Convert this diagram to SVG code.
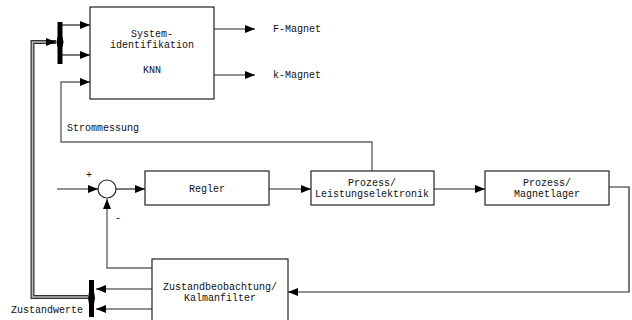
<svg xmlns="http://www.w3.org/2000/svg" width="632" height="320" viewBox="0 0 632 320">
<defs>
<marker id="ah" viewBox="0 0 10 8" refX="10" refY="4" markerWidth="10" markerHeight="8" markerUnits="userSpaceOnUse" orient="auto">
<path d="M0,0 L10,4 L0,8 z" fill="#000"/>
</marker>
<style>
.box{fill:#fff;stroke:#222;stroke-width:1.2}
.ln{fill:none;stroke:#222;stroke-width:1.2}
.gl{fill:none;stroke:#666;stroke-width:1.4}
.dbo{fill:none;stroke:#333;stroke-width:4}
.dbi{fill:none;stroke:#bbb;stroke-width:1.5}
.bar{fill:#000}
text{font-family:"Liberation Mono","DejaVu Sans Mono",monospace;font-size:10px;fill:#111}
.c{text-anchor:middle}
</style>
</defs>
<rect width="632" height="320" fill="#fff"/>
<g id="connectors">
<path class="dbo" d="M56,42 L32.5,42 L32.5,297 L88,297"/>
<path class="dbi" d="M56,42 L32.5,42 L32.5,297 L88,297"/>
<path class="ln" d="M52,42 L56,42" marker-end="url(#ah)"/>
<path class="ln" d="M62,25 L90,25" marker-end="url(#ah)"/>
<path class="ln" d="M62,55 L90,55" marker-end="url(#ah)"/>
<path class="gl" d="M372,171 L372,142 L61,142 L61,82 L90,82" marker-end="url(#ah)"/>
<path class="ln" d="M214,29 L255,29" marker-end="url(#ah)"/>
<path class="ln" d="M214,75 L255,75" marker-end="url(#ah)"/>
<path class="ln" d="M57,189 L98,189" marker-end="url(#ah)"/>
<path class="ln" d="M116,189 L145,189" marker-end="url(#ah)"/>
<path class="ln" d="M269,189 L311,189" marker-end="url(#ah)"/>
<path class="ln" d="M434,189 L485,189" marker-end="url(#ah)"/>
<path class="ln" d="M609,187 L629,187 L629,292 L288,292" marker-end="url(#ah)"/>
<path class="gl" d="M152,268 L107,268 L107,199" marker-end="url(#ah)"/>
<path class="ln" d="M152,289 L96,289" marker-end="url(#ah)"/>
<path class="ln" d="M152,309 L96,309" marker-end="url(#ah)"/>
<text x="89" y="178" class="c">+</text>
<text x="118" y="221" class="c">-</text>
<text x="67" y="131">Strommessung</text>
<text x="273" y="32">F-Magnet</text>
<text x="273" y="78">k-Magnet</text>
<text x="11" y="313">Zustandwerte</text>
</g>
<g id="mux-top">
<path class="bar" d="M57.5,22 L62.5,22 L62.5,36 L63.5,42 L62.5,48 L62.5,64 L57.5,64 L57.5,48 L56.5,42 L57.5,36 z"/>
</g>
<g id="mux-bottom">
<path class="bar" d="M89,280 L94,280 L94,292 L95,298 L94,304 L94,317 L89,317 L89,304 L88,298 L89,292 z"/>
</g>
<g id="sysid">
<rect class="box" x="90" y="7" width="124" height="92"/>
<text x="152" y="37" class="c">System-</text>
<text x="152" y="48" class="c">identifikation</text>
<text x="152" y="73" class="c">KNN</text>
</g>
<g id="sum">
<circle cx="107" cy="189" r="9" fill="#fff" stroke="#222" stroke-width="1.2"/>
</g>
<g id="regler">
<rect class="box" x="145" y="171" width="124" height="34"/>
<text x="207" y="192" class="c">Regler</text>
</g>
<g id="leistung">
<rect class="box" x="311" y="171" width="123" height="34"/>
<text x="372" y="186" class="c">Prozess/</text>
<text x="372" y="197" class="c">Leistungselektronik</text>
</g>
<g id="magnetlager">
<rect class="box" x="485" y="171" width="124" height="34"/>
<text x="547" y="186" class="c">Prozess/</text>
<text x="547" y="197" class="c">Magnetlager</text>
</g>
<g id="kalman">
<rect class="box" x="152" y="259" width="136" height="66"/>
<text x="220" y="290" class="c">Zustandbeobachtung/</text>
<text x="220" y="301" class="c">Kalmanfilter</text>
</g>
</svg>
